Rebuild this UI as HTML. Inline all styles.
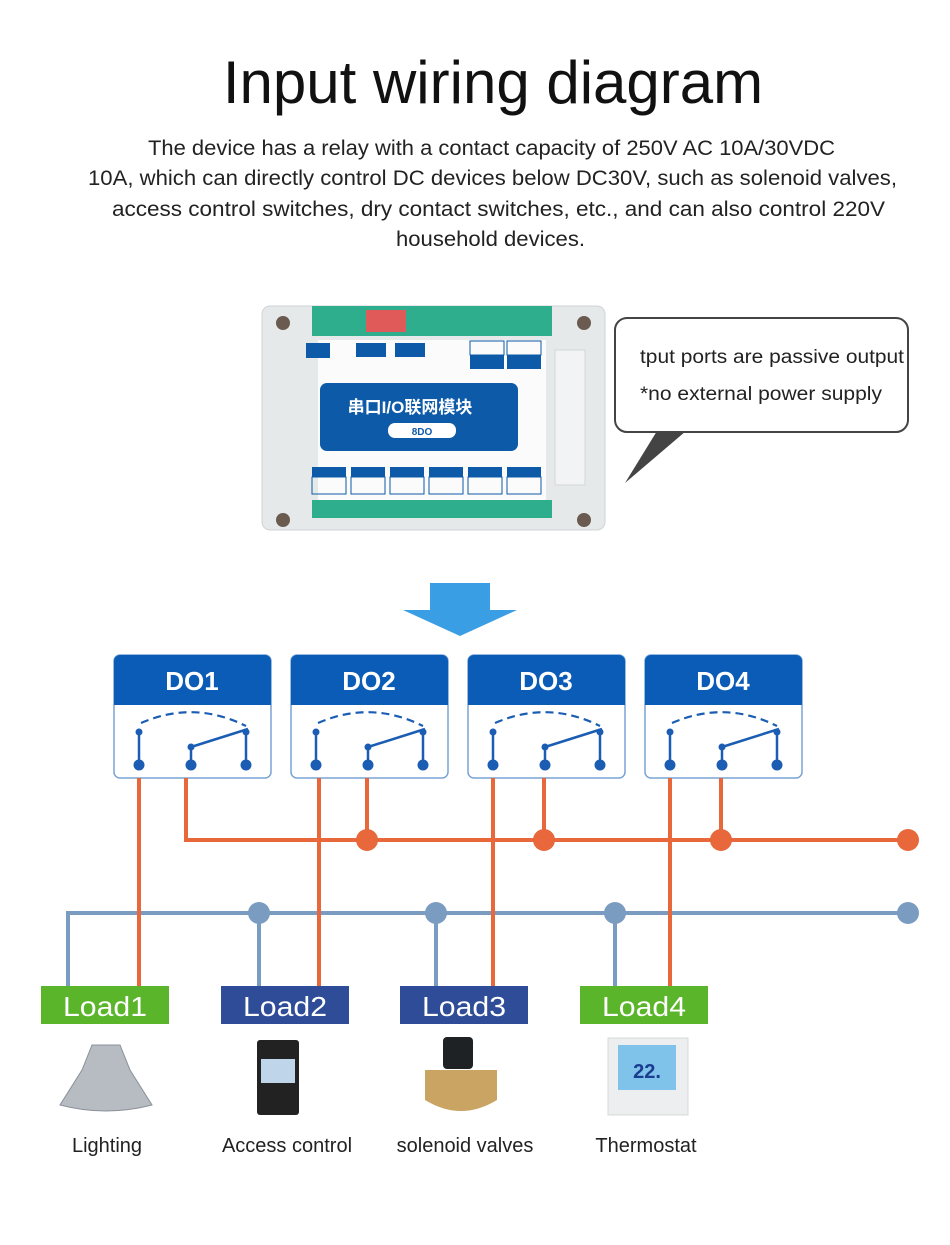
<!DOCTYPE html>
<html><head><meta charset="utf-8"><style>
html,body{margin:0;padding:0;background:#fff;}
body{width:950px;height:1245px;overflow:hidden;position:relative;font-family:"Liberation Sans","Noto Sans CJK SC",sans-serif;}
</style></head><body>
<svg width="950" height="1245" viewBox="0 0 950 1245" xmlns="http://www.w3.org/2000/svg" style="position:absolute;left:0;top:0" font-family="Liberation Sans, Noto Sans CJK SC, sans-serif">
<defs>
<g id="relay">
  <rect x="0" y="0" width="157" height="123" rx="6" fill="#fff" stroke="#7aa3d6" stroke-width="1.5"/>
  <path d="M6 0 H151 a6 6 0 0 1 6 6 V50 H0 V6 a6 6 0 0 1 6-6z" fill="#0b5cb6"/>
  <path d="M27 68 Q80 45 132 71" fill="none" stroke="#1a5db3" stroke-width="2.2" stroke-dasharray="8 5"/>
  <line x1="25" y1="77" x2="25" y2="110" stroke="#1a5db3" stroke-width="2.5"/>
  <line x1="77" y1="92" x2="77" y2="110" stroke="#1a5db3" stroke-width="2.5"/>
  <line x1="77" y1="92" x2="134" y2="74" stroke="#1a5db3" stroke-width="2.5"/>
  <line x1="132" y1="77" x2="132" y2="110" stroke="#1a5db3" stroke-width="2.5"/>
  <circle cx="25" cy="77" r="3.5" fill="#1a5db3"/><circle cx="77" cy="92" r="3.5" fill="#1a5db3"/><circle cx="132" cy="77" r="3.5" fill="#1a5db3"/>
  <circle cx="25" cy="110" r="5.5" fill="#1a5db3"/><circle cx="77" cy="110" r="5.5" fill="#1a5db3"/><circle cx="132" cy="110" r="5.5" fill="#1a5db3"/>
</g>
</defs>
<text x="493" y="103" text-anchor="middle" font-size="60" fill="#111">Input wiring diagram</text>
<g font-size="21" fill="#222">
<text x="148" y="155" textLength="687" lengthAdjust="spacingAndGlyphs">The device has a relay with a contact capacity of 250V AC 10A/30VDC</text>
<text x="88" y="185" textLength="809" lengthAdjust="spacingAndGlyphs">10A, which can directly control DC devices below DC30V, such as solenoid valves,</text>
<text x="112" y="216" textLength="773" lengthAdjust="spacingAndGlyphs">access control switches, dry contact switches, etc., and can also control 220V</text>
<text x="396" y="246" textLength="189" lengthAdjust="spacingAndGlyphs">household devices.</text>
</g>
<!-- device -->
<rect x="262" y="306" width="343" height="224" rx="8" fill="#e6e9ea" stroke="#cfd3d5"/>
<rect x="312" y="306" width="240" height="30" fill="#2fae8e"/>
<rect x="366" y="310" width="40" height="22" fill="#e05a5a"/>
<rect x="312" y="500" width="240" height="18" fill="#2fae8e"/>
<rect x="318" y="340" width="228" height="160" fill="#fbfbfc"/>
<rect x="320" y="383" width="198" height="68" rx="7" fill="#0d5aa8"/>
<text x="410" y="413" text-anchor="middle" font-size="17" font-weight="bold" fill="#fff">串口I/O联网模块</text>
<rect x="388" y="423" width="68" height="15" rx="7" fill="#fff"/>
<text x="422" y="435" text-anchor="middle" font-size="10" fill="#0d5aa8" font-weight="bold">8DO</text>
<g fill="#0d5aa8">
<rect x="312" y="467" width="34" height="10"/><rect x="351" y="467" width="34" height="10"/><rect x="390" y="467" width="34" height="10"/><rect x="429" y="467" width="34" height="10"/><rect x="468" y="467" width="34" height="10"/><rect x="507" y="467" width="34" height="10"/>
<rect x="470" y="355" width="34" height="14"/><rect x="507" y="355" width="34" height="14"/>
<rect x="306" y="343" width="24" height="15"/><rect x="356" y="343" width="30" height="14"/><rect x="395" y="343" width="30" height="14"/>
</g>
<g fill="none" stroke="#0d5aa8"><rect x="312" y="477" width="34" height="17"/><rect x="351" y="477" width="34" height="17"/><rect x="390" y="477" width="34" height="17"/><rect x="429" y="477" width="34" height="17"/><rect x="468" y="477" width="34" height="17"/><rect x="507" y="477" width="34" height="17"/><rect x="470" y="341" width="34" height="14"/><rect x="507" y="341" width="34" height="14"/></g>
<rect x="555" y="350" width="30" height="135" fill="#f1f3f4" stroke="#d2d6d8"/>
<circle cx="283" cy="323" r="7" fill="#6a5a50"/><circle cx="584" cy="323" r="7" fill="#6a5a50"/><circle cx="283" cy="520" r="7" fill="#6a5a50"/><circle cx="584" cy="520" r="7" fill="#6a5a50"/>
<!-- callout -->
<rect x="615" y="318" width="293" height="114" rx="12" fill="#fff" stroke="#444" stroke-width="2"/>
<polygon points="657,431 686,431 625,483" fill="#444"/>
<text x="640" y="363" font-size="19" fill="#222" textLength="264" lengthAdjust="spacingAndGlyphs">tput ports are passive output</text>
<text x="640" y="400" font-size="19" fill="#222" textLength="242" lengthAdjust="spacingAndGlyphs">*no external power supply</text>
<!-- arrow -->
<polygon points="430,583 490,583 490,610 517,610 460,636 403,610 430,610" fill="#3a9ee4"/>
<!-- relays -->
<use href="#relay" x="114" y="655"/><use href="#relay" x="291" y="655"/><use href="#relay" x="468" y="655"/><use href="#relay" x="645" y="655"/>
<g font-size="26" font-weight="bold" fill="#fff" text-anchor="middle">
<text x="192" y="690">DO1</text><text x="369" y="690">DO2</text><text x="546" y="690">DO3</text><text x="723" y="690">DO4</text>
</g>
<!-- blue bus -->
<g stroke="#7b9cc1" stroke-width="4" fill="none">
<polyline points="68,986 68,913 908,913"/>
<line x1="259" y1="913" x2="259" y2="986"/><line x1="436" y1="913" x2="436" y2="986"/><line x1="615" y1="913" x2="615" y2="986"/>
</g>
<g fill="#7b9cc1"><circle cx="259" cy="913" r="11"/><circle cx="436" cy="913" r="11"/><circle cx="615" cy="913" r="11"/><circle cx="908" cy="913" r="11"/></g>
<!-- orange -->
<g stroke="#e8673b" stroke-width="4" fill="none">
<polyline points="186,778 186,840 908,840"/>
<line x1="139" y1="778" x2="139" y2="986"/><line x1="319" y1="778" x2="319" y2="986"/><line x1="493" y1="778" x2="493" y2="986"/><line x1="670" y1="778" x2="670" y2="986"/>
<line x1="367" y1="778" x2="367" y2="840"/><line x1="544" y1="778" x2="544" y2="840"/><line x1="721" y1="778" x2="721" y2="840"/>
</g>
<g fill="#e8673b"><circle cx="367" cy="840" r="11"/><circle cx="544" cy="840" r="11"/><circle cx="721" cy="840" r="11"/><circle cx="908" cy="840" r="11"/></g>
<!-- loads -->
<rect x="41" y="986" width="128" height="38" fill="#5bb52a"/><rect x="221" y="986" width="128" height="38" fill="#2e4c98"/><rect x="400" y="986" width="128" height="38" fill="#2e4c98"/><rect x="580" y="986" width="128" height="38" fill="#5bb52a"/>
<g font-size="28" fill="#fff" text-anchor="middle"><text x="105" y="1016" textLength="84" lengthAdjust="spacingAndGlyphs">Load1</text><text x="285" y="1016" textLength="84" lengthAdjust="spacingAndGlyphs">Load2</text><text x="464" y="1016" textLength="84" lengthAdjust="spacingAndGlyphs">Load3</text><text x="644" y="1016" textLength="84" lengthAdjust="spacingAndGlyphs">Load4</text></g>
<!-- images -->
<path d="M92 1045 h28 l10 25 l22 35 q-46 12 -92 0 l22 -35z" fill="#b7bcc3" stroke="#8b9199"/>
<rect x="257" y="1040" width="42" height="75" rx="3" fill="#222"/><rect x="261" y="1059" width="34" height="24" fill="#bfd6ea"/>
<rect x="443" y="1037" width="30" height="32" rx="4" fill="#1e2224"/><path d="M425 1070 h72 v30 q-36 22 -72 0z" fill="#c9a462"/>
<rect x="608" y="1038" width="80" height="77" fill="#eceeef" stroke="#d7d9da"/><rect x="618" y="1045" width="58" height="45" fill="#7fc2ea"/>
<text x="647" y="1078" text-anchor="middle" font-size="20" font-weight="bold" fill="#1a3d8f">22.</text>
<g font-size="20" fill="#222" text-anchor="middle"><text x="107" y="1152">Lighting</text><text x="287" y="1152">Access control</text><text x="465" y="1152">solenoid valves</text><text x="646" y="1152">Thermostat</text></g>
</svg>
</body></html>
